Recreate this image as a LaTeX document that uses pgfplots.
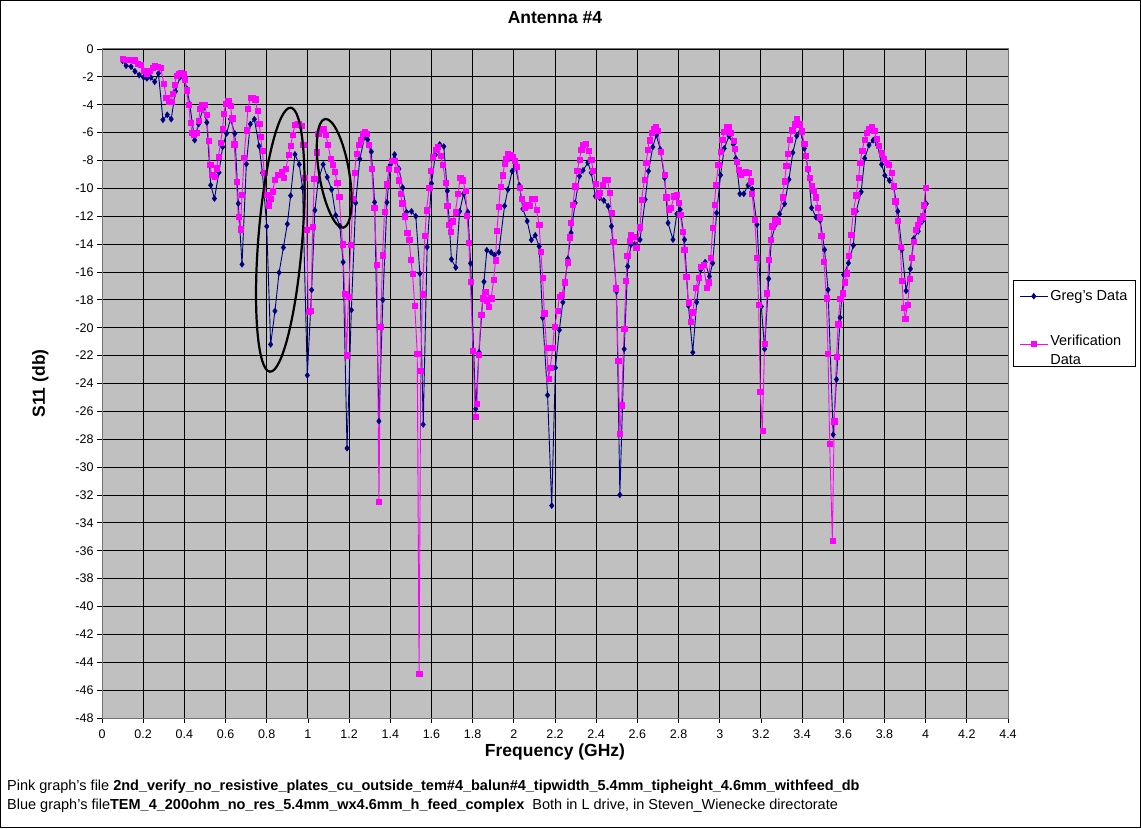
\documentclass[border=0pt]{standalone}
\usepackage{pgfplots}
\pgfplotsset{compat=1.18}
\usepackage{fontspec}
\setmainfont{Liberation Sans}
\definecolor{bggray}{RGB}{192,192,192}
\definecolor{gregblue}{RGB}{0,0,128}
\definecolor{verpink}{RGB}{255,0,255}
\begin{document}
\begin{tikzpicture}[x=1pt,y=1pt]
\path[use as bounding box] (0,0) rectangle (1141,828);
\draw[black,line width=1pt] (0.5,0.5) rectangle (1140.5,827.5);
\begin{axis}[
  at={(102pt,110pt)}, anchor=south west,
  width=906pt, height=669pt, scale only axis,
  xmin=0, xmax=4.4, ymin=-48, ymax=0,
  xtick={0,0.2,0.4,0.6,0.8,1,1.2,1.4,1.6,1.8,2,2.2,2.4,2.6,2.8,3,3.2,3.4,3.6,3.8,4,4.2,4.4},
  xticklabels={0,0.2,0.4,0.6,0.8,1,1.2,1.4,1.6,1.8,2,2.2,2.4,2.6,2.8,3,3.2,3.4,3.6,3.8,4,4.2,4.4},
  ytick={-48,-46,-44,-42,-40,-38,-36,-34,-32,-30,-28,-26,-24,-22,-20,-18,-16,-14,-12,-10,-8,-6,-4,-2,0},
  yticklabels={-48,-46,-44,-42,-40,-38,-36,-34,-32,-30,-28,-26,-24,-22,-20,-18,-16,-14,-12,-10,-8,-6,-4,-2,0},
  grid=major, major grid style={black, line width=0.9pt},
  axis background/.style={fill=bggray},
  axis line style={black!55, line width=1pt},
  tick align=outside, tick pos=left, major tick length=5pt,
  tick style={black, line width=0.8pt},
  ticklabel style={font=\fontsize{12.5}{13}\selectfont},
  xticklabel style={yshift=-3pt},
  xlabel={Frequency (GHz)}, ylabel={S11 (db)},
  label style={font=\bfseries\fontsize{17.5}{18}\selectfont},
  xlabel style={at={(axis description cs:0.5,-0.051)}, anchor=center},
  ylabel style={at={(axis description cs:-0.068,0.5)}, anchor=center},
  title={Antenna \#4},
  title style={font=\bfseries\fontsize{17.5}{18}\selectfont, at={(axis description cs:0.5,1)}, anchor=center, yshift=25pt},
  legend cell align=left,
  legend style={at={(axis description cs:1.0055,0.6547)}, anchor=north west,
    draw=black, fill=white, line width=0.8pt, font=\fontsize{14.5}{19}\selectfont,
    row sep=26pt, inner xsep=6pt, inner ysep=8pt, nodes={line width=0.8pt}},
  legend image code/.code={\draw[mark repeat=2,mark phase=2,#1] plot coordinates {(0pt,0pt)(14pt,0pt)(28pt,0pt)};},
]
\addplot[color=gregblue, line width=0.9pt, mark=diamond*, mark size=3pt, mark options={fill=gregblue, draw=gregblue, line width=0.4pt}] coordinates {
(0.100,-0.85)(0.117,-1.20)(0.141,-1.27)(0.160,-1.60)(0.181,-1.87)(0.202,-2.04)(0.218,-2.11)(0.237,-2.04)(0.256,-2.35)(0.274,-1.75)
(0.296,-5.08)(0.317,-4.72)(0.336,-5.03)(0.357,-3.04)(0.378,-2.04)(0.400,-2.16)(0.413,-2.87)(0.426,-3.95)(0.450,-6.54)(0.469,-5.39)
(0.490,-4.31)(0.509,-5.27)(0.528,-9.77)(0.546,-10.73)(0.568,-8.86)(0.586,-7.02)(0.605,-6.06)(0.624,-5.03)(0.645,-6.06)(0.662,-11.09)
(0.680,-15.45)(0.701,-8.26)(0.720,-5.39)(0.740,-5.04)(0.763,-6.96)(0.779,-8.88)(0.800,-12.73)(0.819,-21.20)(0.840,-18.80)(0.860,-16.04)
(0.881,-14.24)(0.900,-12.56)(0.916,-10.52)(0.937,-7.56)(0.958,-8.28)(0.974,-9.96)(0.997,-23.41)(1.018,-17.29)(1.034,-11.57)(1.050,-9.44)
(1.074,-8.28)(1.094,-9.20)(1.115,-10.08)(1.135,-11.93)(1.155,-12.70)(1.171,-15.29)(1.190,-28.64)(1.211,-18.73)(1.232,-11.04)(1.252,-7.88)
(1.276,-6.31)(1.290,-6.50)(1.308,-7.37)(1.324,-11.00)(1.345,-26.70)(1.364,-18.00)(1.384,-11.00)(1.400,-8.31)(1.421,-7.57)(1.442,-8.60)
(1.460,-9.94)(1.479,-11.71)(1.503,-11.65)(1.524,-12.00)(1.544,-16.12)(1.560,-26.94)(1.579,-14.21)(1.600,-9.65)(1.619,-7.59)(1.640,-6.85)
(1.660,-7.00)(1.677,-10.18)(1.697,-15.09)(1.718,-15.68)(1.737,-11.65)(1.756,-10.38)(1.777,-11.71)(1.790,-15.38)(1.815,-25.82)(1.831,-21.76)
(1.855,-16.70)(1.869,-14.44)(1.890,-14.59)(1.906,-14.79)(1.927,-14.59)(1.955,-11.26)(1.971,-10.09)(1.992,-8.76)(2.008,-8.47)(2.027,-9.79)
(2.044,-11.47)(2.065,-12.35)(2.085,-13.70)(2.104,-13.37)(2.123,-14.16)(2.140,-19.27)(2.164,-24.84)(2.184,-32.76)(2.202,-22.87)(2.221,-20.16)
(2.238,-18.17)(2.262,-15.05)(2.278,-13.20)(2.298,-11.04)(2.319,-9.12)(2.336,-8.71)(2.360,-8.16)(2.376,-8.88)(2.396,-10.56)(2.417,-10.68)
(2.437,-10.87)(2.458,-11.28)(2.474,-12.72)(2.499,-17.40)(2.515,-31.99)(2.536,-21.53)(2.553,-15.60)(2.569,-14.04)(2.585,-14.04)(2.613,-13.68)
(2.638,-10.80)(2.654,-8.76)(2.675,-7.03)(2.692,-6.17)(2.711,-7.20)(2.732,-9.24)(2.749,-12.48)(2.773,-13.68)(2.792,-11.83)(2.808,-11.52)
(2.829,-13.68)(2.848,-18.41)(2.869,-21.77)(2.888,-18.17)(2.908,-15.84)(2.929,-15.29)(2.950,-16.32)(2.966,-15.36)(2.985,-11.76)(3.004,-9.05)
(3.022,-7.13)(3.045,-6.24)(3.066,-6.84)(3.078,-7.85)(3.098,-10.39)(3.117,-10.39)(3.138,-9.77)(3.159,-10.08)(3.181,-12.60)(3.202,-18.48)
(3.218,-21.53)(3.238,-16.49)(3.251,-13.68)(3.271,-12.60)(3.291,-11.83)(3.315,-11.11)(3.336,-9.36)(3.355,-7.44)(3.374,-6.24)(3.392,-5.93)
(3.411,-7.13)(3.430,-8.68)(3.446,-11.40)(3.468,-12.07)(3.488,-12.30)(3.509,-14.40)(3.526,-17.28)(3.551,-27.67)(3.567,-23.71)(3.585,-19.27)
(3.602,-16.20)(3.625,-15.36)(3.649,-14.09)(3.663,-11.64)(3.687,-10.25)(3.704,-7.85)(3.725,-6.89)(3.745,-6.55)(3.766,-6.89)(3.786,-8.28)
(3.802,-9.07)(3.824,-9.43)(3.844,-9.84)(3.865,-11.64)(3.885,-14.40)(3.905,-17.35)(3.926,-15.77)(3.942,-13.61)(3.964,-13.08)(3.984,-12.36)
(4.003,-11.11)
};
\addlegendentry{Greg's Data}
\addplot[color=verpink, line width=0.9pt, mark=square*, mark size=2.6pt, mark options={fill=verpink, draw=verpink, line width=0.4pt}] coordinates {
(0.100,-0.72)(0.117,-0.75)(0.133,-0.78)(0.149,-0.78)(0.160,-0.80)(0.173,-1.08)(0.189,-1.13)(0.205,-1.56)(0.218,-1.75)(0.232,-1.56)
(0.245,-1.32)(0.256,-1.20)(0.269,-1.27)(0.285,-1.37)(0.301,-2.51)(0.312,-3.47)(0.325,-3.76)(0.336,-3.76)(0.344,-3.19)(0.352,-2.56)
(0.362,-1.92)(0.373,-1.75)(0.384,-1.68)(0.394,-1.75)(0.403,-2.20)(0.410,-2.95)(0.421,-4.00)(0.429,-5.27)(0.437,-5.99)(0.445,-6.16)
(0.458,-5.99)(0.469,-5.15)(0.477,-4.31)(0.485,-4.00)(0.498,-4.00)(0.509,-4.72)(0.517,-6.59)(0.525,-8.31)(0.533,-9.03)(0.546,-9.15)
(0.557,-8.55)(0.565,-7.74)(0.576,-6.71)(0.586,-5.70)(0.592,-4.62)(0.602,-3.90)(0.613,-3.71)(0.624,-4.07)(0.632,-4.96)(0.642,-6.83)
(0.653,-9.51)(0.662,-12.05)(0.672,-12.93)(0.680,-10.47)(0.690,-7.78)(0.701,-5.82)(0.709,-4.26)(0.721,-3.52)(0.733,-3.50)(0.744,-3.60)
(0.755,-4.44)(0.763,-5.35)(0.771,-6.31)(0.779,-7.32)(0.788,-8.90)(0.797,-10.44)(0.808,-11.21)(0.819,-10.73)(0.829,-10.20)(0.840,-9.36)
(0.856,-9.00)(0.873,-8.84)(0.881,-9.24)(0.894,-8.57)(0.905,-7.61)(0.916,-6.96)(0.926,-6.17)(0.937,-5.45)(0.953,-5.40)(0.969,-5.52)
(0.977,-6.84)(0.986,-9.24)(0.994,-12.97)(1.002,-18.85)(1.015,-18.80)(1.023,-12.73)(1.031,-9.32)(1.042,-7.40)(1.050,-6.07)(1.061,-5.76)
(1.074,-5.76)(1.087,-6.17)(1.098,-6.84)(1.110,-7.85)(1.119,-8.28)(1.131,-8.81)(1.142,-9.60)(1.152,-10.61)(1.168,-14.00)(1.179,-17.53)
(1.187,-21.97)(1.197,-17.80)(1.208,-14.05)(1.219,-10.76)(1.227,-8.88)(1.235,-7.51)(1.247,-6.84)(1.255,-6.48)(1.265,-6.07)(1.276,-5.93)
(1.287,-6.07)(1.297,-6.84)(1.310,-8.60)(1.322,-11.40)(1.335,-15.50)(1.345,-32.50)(1.353,-19.90)(1.363,-14.80)(1.372,-11.65)(1.384,-9.70)
(1.393,-8.60)(1.405,-8.00)(1.421,-8.04)(1.432,-8.67)(1.442,-9.42)(1.450,-10.40)(1.458,-11.07)(1.471,-12.00)(1.482,-13.18)(1.492,-13.70)
(1.500,-15.09)(1.508,-16.12)(1.519,-18.41)(1.531,-21.85)(1.540,-44.85)(1.548,-23.09)(1.556,-17.59)(1.568,-13.41)(1.576,-11.56)(1.589,-9.94)
(1.597,-8.71)(1.605,-7.73)(1.619,-7.23)(1.632,-7.00)(1.644,-7.65)(1.656,-8.32)(1.668,-9.59)(1.676,-11.26)(1.684,-12.59)(1.694,-13.12)
(1.705,-12.35)(1.716,-11.71)(1.729,-10.38)(1.740,-9.21)(1.753,-9.41)(1.765,-10.18)(1.773,-11.94)(1.782,-13.91)(1.789,-16.70)(1.802,-21.65)
(1.813,-26.41)(1.821,-25.47)(1.829,-21.94)(1.842,-19.06)(1.850,-17.88)(1.861,-17.44)(1.869,-18.03)(1.877,-18.47)(1.890,-17.88)(1.902,-16.56)
(1.911,-15.15)(1.918,-13.03)(1.927,-11.32)(1.935,-9.88)(1.947,-9.06)(1.955,-8.24)(1.963,-7.88)(1.971,-7.53)(1.982,-7.59)(1.992,-7.73)
(2.003,-8.03)(2.015,-8.47)(2.027,-9.94)(2.040,-10.76)(2.052,-11.35)(2.063,-11.18)(2.076,-11.26)(2.089,-10.75)(2.099,-10.73)(2.110,-11.52)
(2.123,-12.60)(2.131,-14.52)(2.140,-16.39)(2.148,-18.96)(2.159,-21.41)(2.169,-23.64)(2.177,-22.85)(2.189,-21.41)(2.197,-19.92)(2.213,-18.79)
(2.221,-17.76)(2.234,-17.64)(2.246,-16.73)(2.262,-15.29)(2.270,-13.51)(2.278,-12.48)(2.287,-11.16)(2.298,-9.84)(2.308,-8.76)(2.319,-7.92)
(2.327,-7.20)(2.336,-6.89)(2.349,-6.79)(2.363,-7.27)(2.376,-7.92)(2.385,-8.71)(2.398,-9.67)(2.406,-10.49)(2.417,-10.32)(2.430,-9.72)
(2.442,-9.36)(2.455,-9.36)(2.466,-10.32)(2.474,-11.76)(2.483,-13.85)(2.496,-17.16)(2.507,-22.39)(2.515,-27.60)(2.523,-25.56)(2.536,-20.04)
(2.545,-16.63)(2.551,-14.81)(2.561,-13.75)(2.569,-13.32)(2.584,-13.44)(2.594,-14.28)(2.613,-12.79)(2.621,-10.80)(2.634,-9.36)(2.643,-8.16)
(2.651,-7.20)(2.659,-6.55)(2.670,-6.00)(2.678,-5.76)(2.690,-5.59)(2.700,-5.88)(2.714,-7.37)(2.732,-9.00)(2.740,-10.63)(2.752,-11.52)
(2.763,-11.40)(2.779,-10.56)(2.792,-10.44)(2.800,-11.04)(2.808,-11.88)(2.821,-13.13)(2.827,-14.40)(2.837,-16.32)(2.848,-18.17)(2.860,-19.56)
(2.869,-18.89)(2.885,-17.11)(2.897,-16.39)(2.908,-15.60)(2.921,-15.48)(2.937,-17.11)(2.945,-16.73)(2.956,-15.00)(2.966,-12.84)(2.974,-11.16)
(2.982,-9.72)(2.993,-8.33)(3.004,-7.37)(3.012,-6.48)(3.022,-5.93)(3.033,-5.59)(3.045,-5.59)(3.054,-6.00)(3.066,-6.60)(3.074,-7.13)
(3.082,-8.09)(3.093,-8.64)(3.101,-9.00)(3.114,-8.88)(3.127,-8.83)(3.141,-8.88)(3.149,-9.48)(3.157,-10.39)(3.170,-12.24)(3.181,-14.95)
(3.189,-18.36)(3.197,-24.60)(3.207,-27.36)(3.218,-21.12)(3.230,-17.52)(3.238,-15.12)(3.247,-13.68)(3.255,-12.72)(3.267,-12.24)(3.283,-12.36)
(3.304,-10.63)(3.315,-9.48)(3.323,-8.40)(3.331,-7.51)(3.339,-6.48)(3.352,-5.83)(3.363,-5.40)(3.374,-5.04)(3.387,-5.40)(3.398,-5.90)
(3.410,-6.80)(3.419,-7.65)(3.427,-8.60)(3.437,-9.24)(3.446,-9.84)(3.457,-10.15)(3.468,-10.63)(3.477,-11.40)(3.485,-12.07)(3.493,-13.37)
(3.506,-15.24)(3.518,-17.88)(3.526,-21.84)(3.534,-28.32)(3.547,-35.28)(3.556,-26.71)(3.567,-22.08)(3.575,-19.75)(3.585,-17.93)(3.597,-17.52)
(3.608,-16.73)(3.618,-16.08)(3.626,-14.81)(3.638,-13.32)(3.649,-11.64)(3.663,-10.49)(3.674,-9.24)(3.682,-8.16)(3.692,-7.27)(3.704,-6.48)
(3.715,-6.00)(3.723,-5.69)(3.737,-5.59)(3.750,-5.88)(3.761,-6.41)(3.773,-6.96)(3.786,-7.44)(3.798,-7.85)(3.811,-8.16)(3.822,-8.33)
(3.835,-8.88)(3.844,-9.84)(3.852,-10.92)(3.863,-12.31)(3.877,-14.16)(3.885,-16.63)(3.893,-18.55)(3.901,-19.37)(3.913,-18.36)(3.923,-16.49)
(3.934,-15.00)(3.942,-13.85)(3.951,-12.96)(3.962,-12.60)(3.970,-12.24)(3.984,-12.00)(3.992,-11.21)(4.000,-9.96)
};
\addlegendentry{\begin{tabular}{@{}l@{}}Verification\\Data\end{tabular}}
\end{axis}
% annotation ellipses
\draw[black, line width=2.2pt, rotate around={85.5:(280.3,588.3)}] (280.3,588.3) ellipse (132.4pt and 22pt);
\draw[black, line width=2.2pt, rotate around={99.6:(334.2,654.7)}] (334.2,654.7) ellipse (55.1pt and 15pt);
% footer
\node[anchor=west, inner sep=0pt, font=\fontsize{14.5}{14.5}\selectfont] at (7,41) {Pink graph's file \textbf{2nd\_verify\_no\_resistive\_plates\_cu\_outside\_tem\#4\_balun\#4\_tipwidth\_5.4mm\_tipheight\_4.6mm\_withfeed\_db}};
\node[anchor=west, inner sep=0pt, font=\fontsize{14.5}{14.5}\selectfont] at (7,22) {Blue graph's file\textbf{TEM\_4\_200ohm\_no\_res\_5.4mm\_wx4.6mm\_h\_feed\_complex}\ \ Both in L drive, in Steven\_Wienecke directorate};
\end{tikzpicture}
\end{document}
